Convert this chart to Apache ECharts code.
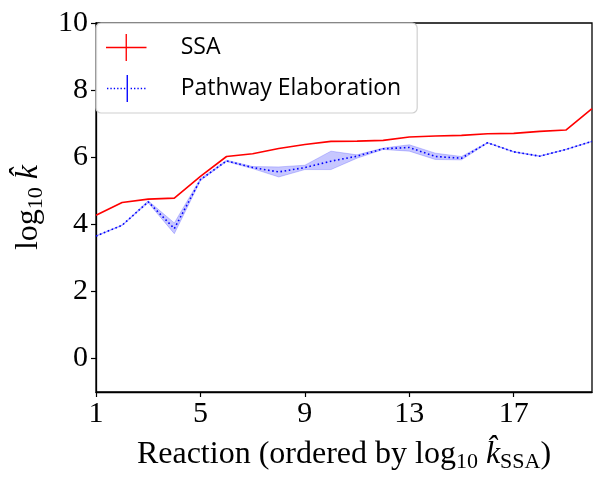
<!DOCTYPE html>
<html>
<head>
<meta charset="utf-8">
<script src="https://cdn.jsdelivr.net/npm/echarts@6/dist/echarts.min.js"></script>
<style>
  html, body { margin: 0; padding: 0; background: #fff; }
  #chart { width: 604px; height: 493px; }
</style>
</head>
<body>
<div id="chart"></div>
<script>
// reactions 1..20, ordered by SSA rate
var reactions = [1, 2, 3, 4, 5, 6, 7, 8, 9, 10, 11, 12, 13, 14, 15, 16, 17, 18, 19, 20];
var ssa = [4.27, 4.65, 4.75, 4.78, 5.43, 6.02, 6.10, 6.26, 6.38, 6.47, 6.48, 6.50, 6.60, 6.63, 6.65, 6.70, 6.71, 6.77, 6.81, 7.45];
var pathway = [3.65, 3.97, 4.67, 3.87, 5.33, 5.89, 5.69, 5.56, 5.69, 5.88, 6.03, 6.25, 6.29, 6.02, 5.97, 6.43, 6.16, 6.03, 6.23, 6.47];
var pathwayLow = [3.64, 3.96, 4.64, 3.72, 5.30, 5.87, 5.66, 5.41, 5.63, 5.63, 5.97, 6.23, 6.18, 5.93, 5.92, 6.42, 6.15, 6.02, 6.22, 6.46];
var pathwayHigh = [3.66, 3.98, 4.70, 4.04, 5.36, 5.91, 5.72, 5.71, 5.76, 6.18, 6.07, 6.27, 6.37, 6.12, 6.02, 6.44, 6.17, 6.04, 6.24, 6.48];
var xTicks = [1, 5, 9, 13, 17];
var yTicks = [0, 2, 4, 6, 8, 10];

var serif = 'Liberation Serif';
var sans = 'Open Sans';

function pairs(ys) {
    var out = [];
    for (var i = 0; i < reactions.length; i++) {
        out.push([reactions[i], ys[i]]);
    }
    return out;
}

// legend glyphs: line with a vertical error bar through the middle
var iconSolid = 'path://M0,19h60v2h-60z M29,0h2v40h-2z';
var iconDotted = 'path://M0,19h2v2h-2z M5,19h2v2h-2z M10,19h2v2h-2z M15,19h2v2h-2z M20,19h2v2h-2z M25,19h2v2h-2z M29,0h2v40h-2z M35,19h2v2h-2z M40,19h2v2h-2z M45,19h2v2h-2z M50,19h2v2h-2z M55,19h2v2h-2z';

var nameRich = {
    n: { fontFamily: serif, fontSize: 32, color: '#000' },
    it: { fontFamily: serif, fontStyle: 'italic', fontSize: 32, color: '#000' },
    sub: { fontFamily: serif, fontSize: 22, color: '#000', padding: [15, 0, 0, 0] }
};

var myChart = echarts.init(document.getElementById('chart'), null, { renderer: 'canvas' });

var option = {
    animation: false,
    grid: {
        left: 96, right: 12, top: 23, bottom: 101,
        show: true, borderColor: '#000', borderWidth: 1.3, backgroundColor: 'transparent'
    },
    legend: {
        left: 96, top: 23,
        orient: 'vertical',
        padding: [11, 16, 11, 10],
        itemGap: 14,
        itemWidth: 57, itemHeight: 27,
        backgroundColor: 'rgba(255,255,255,0.85)',
        borderColor: '#d0d0d0', borderWidth: 1.2, borderRadius: 5,
        textStyle: { fontFamily: sans, fontSize: 23, color: '#000', padding: [0, 0, 0, 21] },
        data: [
            { name: 'SSA', icon: iconSolid, itemStyle: { color: 'red' } },
            { name: 'Pathway Elaboration', icon: iconDotted, itemStyle: { color: 'blue' } }
        ]
    },
    xAxis: {
        type: 'value', min: 1, max: 20,
        name: '{n|Reaction (ordered by log}{sub|10}{it| k̂}{sub|SSA}{n|)}',
        nameLocation: 'middle', nameGap: 44,
        nameTextStyle: { rich: nameRich },
        axisLine: { show: true, onZero: false, lineStyle: { color: '#000', width: 1.3 } },
        axisTick: { show: true, customValues: xTicks, length: 5, lineStyle: { color: '#000', width: 1.2 } },
        axisLabel: { customValues: xTicks, fontFamily: serif, fontSize: 30, color: '#000', margin: 7 },
        splitLine: { show: false }
    },
    yAxis: {
        type: 'value', min: -1, max: 10,
        name: '{n|log}{sub|10}{it| k̂}',
        nameLocation: 'middle', nameGap: 47, nameRotate: 90,
        nameTextStyle: { rich: nameRich },
        axisLine: { show: true, onZero: false, lineStyle: { color: '#000', width: 1.3 } },
        axisTick: { show: true, customValues: yTicks, length: 5, lineStyle: { color: '#000', width: 1.2 } },
        axisLabel: { customValues: yTicks, fontFamily: serif, fontSize: 30, color: '#000', margin: 8 },
        splitLine: { show: false }
    },
    series: [
        {
            // shaded band for pathway elaboration spread
            name: 'band',
            type: 'custom',
            silent: true,
            z: 1,
            data: [0],
            renderItem: function (params, api) {
                var pts = [];
                for (var i = 0; i < reactions.length; i++) {
                    pts.push(api.coord([reactions[i], pathwayHigh[i]]));
                }
                for (var j = reactions.length - 1; j >= 0; j--) {
                    pts.push(api.coord([reactions[j], pathwayLow[j]]));
                }
                return {
                    type: 'polygon',
                    shape: { points: pts },
                    style: { fill: 'rgba(0,0,255,0.22)', stroke: 'rgba(0,0,255,0.25)', lineWidth: 0.8 }
                };
            }
        },
        {
            name: 'SSA', type: 'line', data: pairs(ssa),
            symbol: 'none', z: 3,
            lineStyle: { color: 'red', width: 1.6 },
            itemStyle: { color: 'red' }
        },
        {
            name: 'Pathway Elaboration', type: 'line', data: pairs(pathway),
            symbol: 'none', z: 4,
            lineStyle: { color: 'blue', width: 1.6, type: [1.6, 2.6] },
            itemStyle: { color: 'blue' }
        }
    ]
};

myChart.setOption(option);
</script>
</body>
</html>
